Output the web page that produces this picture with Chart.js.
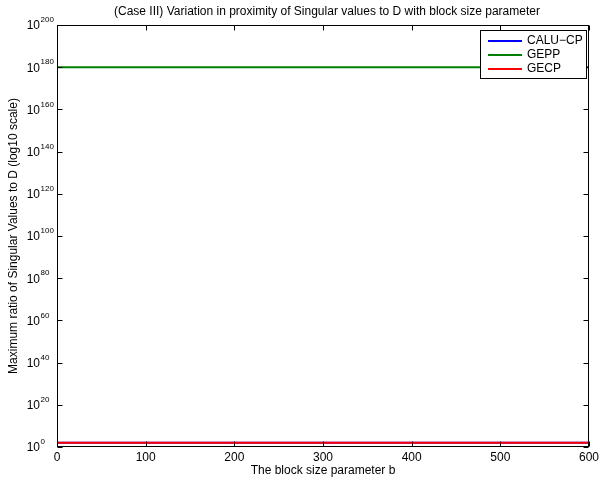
<!DOCTYPE html>
<html>
<head>
<meta charset="utf-8">
<script src="https://cdn.jsdelivr.net/npm/chart.js@4/dist/chart.umd.min.js"></script>
<style>
  html, body { margin: 0; padding: 0; background: #fff; }
  #wrap { width: 602px; height: 481px; position: relative; }
</style>
</head>
<body>
<div id="wrap"><canvas id="c" width="602" height="481"></canvas></div>
<script>
// Block size parameter b (x axis)
const blockSizes = [1, 100, 200, 300, 400, 500, 600];
// Maximum ratio of singular values to D for each method
const caluCp = [1e2, 1e2, 1e2, 1e2, 1e2, 1e2, 1e2];
const gepp   = [1e180, 1e180, 1e180, 1e180, 1e180, 1e180, 1e180];
const gecp   = [1e2, 1e2, 1e2, 1e2, 1e2, 1e2, 1e2];
// Axis ticks
const xTicks = [0, 100, 200, 300, 400, 500, 600];
const yExponents = [0, 20, 40, 60, 80, 100, 120, 140, 160, 180, 200];

const seriesNames = ['CALU\u2212CP', 'GEPP', 'GECP'];
const seriesColors = ['#0000ff', '#008000', '#ff0000'];

const FONT = '"Liberation Sans", Arial, Helvetica, sans-serif';
const TITLE = '(Case III) Variation in proximity of Singular values to D with block size parameter';
const XTITLE = 'The block size parameter b';
const YTITLE = 'Maximum ratio of Singular Values to D (log10 scale)';

function pts(ys) { return blockSizes.map((b, i) => ({ x: b, y: ys[i] })); }

// Frame, inward ticks, exponent labels, titles and legend
const matlabAxes = {
  id: 'matlabAxes',
  afterDatasetsDraw(chart) {
    const ctx = chart.ctx;
    const a = chart.chartArea;
    const xs = chart.scales.x, ys = chart.scales.y;
    ctx.save();
    ctx.strokeStyle = '#000';
    ctx.lineWidth = 1;
    const L = Math.round(a.left) + 0.5, R = Math.round(a.right) - 0.5;
    const T = Math.round(a.top) + 0.5, B = Math.round(a.bottom) - 0.5;
    ctx.strokeRect(L, T, R - L, B - T);
    ctx.beginPath();
    xTicks.forEach(v => {
      const px = Math.round(xs.getPixelForValue(v)) + 0.5;
      ctx.moveTo(px, B); ctx.lineTo(px, B - 5);
      ctx.moveTo(px, T); ctx.lineTo(px, T + 5);
    });
    yExponents.forEach(e => {
      const py = Math.round(ys.getPixelForValue(Math.pow(10, e))) + 0.5;
      ctx.moveTo(L, py); ctx.lineTo(L + 5, py);
      ctx.moveTo(R, py); ctx.lineTo(R - 5, py);
    });
    ctx.stroke();

    // y tick labels: 10 with superscript exponent
    ctx.fillStyle = '#000';
    yExponents.forEach(e => {
      const py = ys.getPixelForValue(Math.pow(10, e));
      ctx.font = '12px ' + FONT;
      ctx.textAlign = 'right';
      ctx.textBaseline = 'middle';
      ctx.fillText('10', 40, py + 1);
      ctx.font = '8px ' + FONT;
      ctx.textAlign = 'left';
      ctx.fillText(String(e), 40.5, py - 5);
    });

    // titles
    ctx.font = '12px ' + FONT;
    ctx.textAlign = 'center';
    ctx.textBaseline = 'middle';
    ctx.fillText(TITLE, (a.left + a.right) / 2 + 4, 12);
    ctx.fillText(XTITLE, (a.left + a.right) / 2, 471);
    ctx.save();
    ctx.translate(14, (a.top + a.bottom) / 2);
    ctx.rotate(-Math.PI / 2);
    ctx.fillText(YTITLE, 0, 0);
    ctx.restore();
    ctx.restore();
  },
  afterDraw(chart) {
    const ctx = chart.ctx;
    ctx.save();
    const bx = 480.5, by = 30.5, bw = 106, bh = 48;
    ctx.fillStyle = '#fff';
    ctx.fillRect(bx, by, bw, bh);
    ctx.strokeStyle = '#000';
    ctx.lineWidth = 1;
    ctx.strokeRect(bx, by, bw, bh);
    ctx.font = '12px ' + FONT;
    ctx.textAlign = 'left';
    ctx.textBaseline = 'middle';
    chart.data.datasets.forEach((ds, i) => {
      const y = 41 + i * 14;
      ctx.strokeStyle = ds.borderColor;
      ctx.lineWidth = 2;
      ctx.beginPath();
      ctx.moveTo(488, y); ctx.lineTo(522, y);
      ctx.stroke();
      ctx.fillStyle = '#000';
      ctx.fillText(ds.label, 527, y);
    });
    ctx.restore();
  }
};

new Chart(document.getElementById('c'), {
  type: 'line',
  data: {
    datasets: [
      { label: seriesNames[0], data: pts(caluCp), borderColor: seriesColors[0], order: 2 },
      { label: seriesNames[1], data: pts(gepp), borderColor: seriesColors[1], order: 1 },
      { label: seriesNames[2], data: pts(gecp), borderColor: seriesColors[2], order: 0 }
    ].map(d => Object.assign(d, { borderWidth: 2, pointRadius: 0, tension: 0, fill: false }))
  },
  options: {
    responsive: false,
    animation: false,
    devicePixelRatio: 1,
    layout: { padding: { top: 25, right: 9, left: 0, bottom: 0 } },
    plugins: { legend: { display: false }, title: { display: false }, tooltip: { enabled: false } },
    scales: {
      x: {
        type: 'linear', min: 0, max: 600,
        grid: { display: false, drawTicks: false },
        border: { display: false },
        ticks: {
          stepSize: 100, padding: 3, color: '#000', maxRotation: 0,
          font: { family: FONT, size: 12 }
        },
        afterBuildTicks: s => { s.ticks = xTicks.map(v => ({ value: v })); },
        afterFit: s => { s.height = 34; }
      },
      y: {
        type: 'logarithmic', min: 1, max: 1e200,
        grid: { display: false, drawTicks: false },
        border: { display: false },
        ticks: { display: false },
        afterBuildTicks: s => { s.ticks = yExponents.map(e => ({ value: Math.pow(10, e) })); },
        afterFit: s => { s.width = 57; }
      }
    }
  },
  plugins: [matlabAxes]
});
</script>
</body>
</html>
